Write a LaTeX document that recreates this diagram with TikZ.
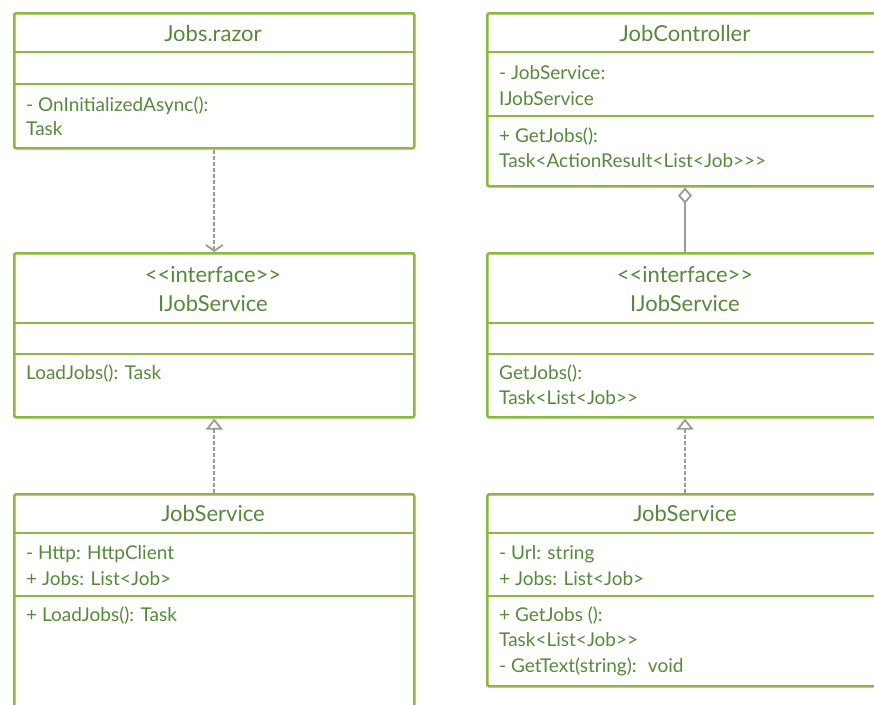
\documentclass[tikz,border=0pt]{standalone}
\usepackage{fontspec}
\setmainfont{Lato}[Ligatures=TeXOff]
\usetikzlibrary{arrows.meta}
\definecolor{bord}{HTML}{8CB83E}
\definecolor{txt}{HTML}{568A3A}
\definecolor{conn}{HTML}{9A9A9A}
\begin{document}
\begin{tikzpicture}[x=1pt,y=-1pt,
  umlbox/.style={draw=bord, line width=2.6pt, rounded corners=2pt, anchor=north west, inner sep=0pt, fill=white},
  title/.style={text=txt, font=\fontsize{22}{26}\selectfont, anchor=base, inner sep=0pt},
  item/.style={text=txt, font=\fontsize{19}{22}\selectfont, anchor=base west, inner sep=0pt},
  divider/.style={draw=bord, line width=2.2pt},
  depend/.style={draw=conn, line width=1.8pt, dash pattern=on 4pt off 2pt, -{Straight Barb[length=6pt,width=17pt,line width=1.8pt]}},
  realize/.style={draw=conn, line width=1.8pt, dash pattern=on 4pt off 2pt, -{Triangle[open,length=11pt,width=17pt,line width=1.8pt]}},
  aggreg/.style={draw=conn, line width=1.8pt, {Diamond[open,length=16pt,width=14pt,line width=1.8pt]}-}
]
\useasboundingbox (0,0) rectangle (874,704);
\fill[white] (0,0) rectangle (874,704);

% ---------- Left column ----------
\node[umlbox, minimum width=400pt, minimum height=135pt] (jr) at (13,12) {};
\draw[divider] (13,52) -- (413,52);
\draw[divider] (13,84) -- (413,84);
\node[title] (jrT) at (213,41) {Jobs.razor};
\node[item] (jrM1) at (26,111.5) {- OnInitializedAsync():};
\node[item] (jrM2) at (26,135.5) {Task};

\node[umlbox, minimum width=400pt, minimum height=164pt] (ijl) at (13,252) {};
\draw[divider] (13,323) -- (413,323);
\draw[divider] (13,354) -- (413,354);
\node[title] (ijlS) at (213,282) {<{}<interface>{}>};
\node[title] (ijlT) at (213,311) {IJobService};
\node[item] (ijlM1) at (26,379.5) {LoadJobs(): Task};

\node[umlbox, minimum width=400pt, minimum height=235pt] (jsl) at (13,493) {};
\draw[divider] (13,533) -- (413,533);
\draw[divider] (13,596) -- (413,596);
\node[title] (jslT) at (213,521) {JobService};
\node[item] (jslA1) at (26,559.5) {- Http: HttpClient};
\node[item] (jslA2) at (26,585.5) {+ Jobs: List<Job>};
\node[item] (jslM1) at (26,621.5) {+ LoadJobs(): Task};

% ---------- Right column ----------
\node[umlbox, minimum width=398pt, minimum height=173pt] (jc) at (486,12) {};
\draw[divider] (486,52) -- (884,52);
\draw[divider] (486,116) -- (884,116);
\node[title] (jcT) at (685,41) {JobController};
\node[item] (jcA1) at (499,79.5) {- JobService:};
\node[item] (jcA2) at (499,105.5) {IJobService};
\node[item] (jcM1) at (499,142.5) {+ GetJobs():};
\node[item] (jcM2) at (499,167.5) {Task<ActionResult<List<Job>{}>{}>};

\node[umlbox, minimum width=398pt, minimum height=164pt] (ijr) at (486,252) {};
\draw[divider] (486,323) -- (884,323);
\draw[divider] (486,354) -- (884,354);
\node[title] (ijrS) at (685,282) {<{}<interface>{}>};
\node[title] (ijrT) at (685,311) {IJobService};
\node[item] (ijrM1) at (499,379.5) {GetJobs():};
\node[item] (ijrM2) at (499,404.5) {Task<List<Job>{}>};

\node[umlbox, minimum width=398pt, minimum height=192pt] (jsr) at (486,493) {};
\draw[divider] (486,533) -- (884,533);
\draw[divider] (486,596) -- (884,596);
\node[title] (jsrT) at (685,521) {JobService};
\node[item] (jsrA1) at (499,559.5) {- Url: string};
\node[item] (jsrA2) at (499,585.5) {+ Jobs: List<Job>};
\node[item] (jsrM1) at (499,621.5) {+ GetJobs ():};
\node[item] (jsrM2) at (499,646.5) {Task<List<Job>{}>};
\node[item] (jsrM3) at (499,672.5) {- GetText(string):~ void};

% ---------- Connectors ----------
\draw[depend] (jr.south) -- (ijl.north);
\draw[realize] (jsl.north) -- (ijl.south);
\draw[aggreg] (jc.south -| 685,0) -- (ijr.north -| 685,0);
\draw[realize] (jsr.north -| 685,0) -- (ijr.south -| 685,0);
\end{tikzpicture}
\end{document}
